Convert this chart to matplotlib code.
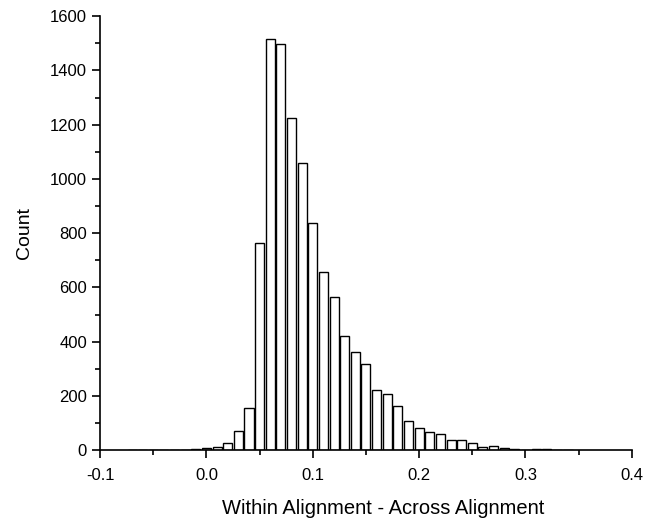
import numpy as np
import matplotlib.pyplot as plt
from matplotlib.ticker import MultipleLocator

plt.rcParams['font.family'] = ['Liberation Sans', 'DejaVu Sans']

# histogram bin centres (bin width 0.01) and counts
bin_centers = np.round(np.arange(-0.07, 0.345, 0.01), 2)
counts = [0, 2, 0, 2, 2, 0, 3, 8,
          13, 28, 69, 156, 765, 1515, 1498, 1225, 1058, 839,
          655, 564, 421, 361, 317, 220, 208, 162, 107, 81,
          66, 58, 38, 36, 25, 12, 17, 7, 5, 1,
          4, 4, 0, 2]

fig = plt.figure(figsize=(6.46, 5.24), dpi=100)
ax = fig.add_axes([0.155, 0.141, 0.823, 0.828])

ax.bar(bin_centers, counts, width=0.0085, color='white',
       edgecolor='black', linewidth=1.0)

ax.set_xlim(-0.1, 0.4)
ax.set_ylim(0, 1600)
ax.xaxis.set_major_locator(MultipleLocator(0.1))
ax.xaxis.set_minor_locator(MultipleLocator(0.05))
ax.yaxis.set_major_locator(MultipleLocator(200))
ax.yaxis.set_minor_locator(MultipleLocator(100))
ax.set_xticklabels([f'{v:.1f}' for v in ax.get_xticks()])

for s in ['top', 'right']:
    ax.spines[s].set_visible(False)
for s in ['left', 'bottom']:
    ax.spines[s].set_linewidth(1.2)
ax.tick_params(which='major', direction='out', length=6, width=1.2, labelsize=12)
ax.tick_params(axis='x', which='major', pad=7)
ax.tick_params(which='minor', direction='out', length=3.5, width=1.2)

ax.set_xlabel('Within Alignment - Across Alignment', fontsize=14.5)
ax.xaxis.set_label_coords(0.533, -0.112)
ax.xaxis.label.set_va('top')
ax.set_ylabel('Count', fontsize=14, labelpad=12)

fig.savefig('out.png', dpi=100)
